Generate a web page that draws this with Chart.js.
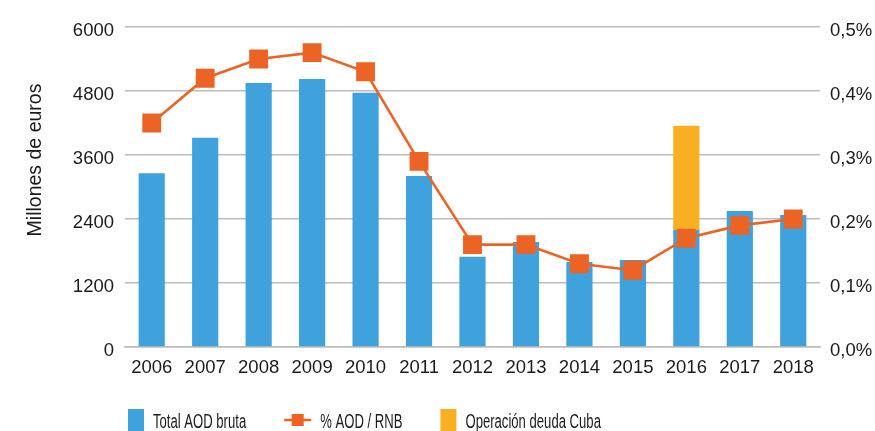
<!DOCTYPE html>
<html>
<head>
<meta charset="utf-8">
<script src="https://cdn.jsdelivr.net/npm/chart.js@4"></script>
<style>
  html, body { margin: 0; padding: 0; background: #fff; }
  #wrap { width: 875px; height: 431px; }
</style>
</head>
<body>
<div id="wrap"><canvas id="aodChart"></canvas></div>
<script>
const years = ["2006", "2007", "2008", "2009", "2010", "2011", "2012", "2013", "2014", "2015", "2016", "2017", "2018"];
const aodBruta = [3260, 3925, 4950, 5025, 4765, 3205, 1690, 1970, 1595, 1630, 2195, 2550, 2475];
const deudaCuba = [0, 0, 0, 0, 0, 0, 0, 0, 0, 0, 1955, 0, 0];
const aodRnb = [0.35, 0.42, 0.45, 0.46, 0.43, 0.29, 0.16, 0.16, 0.13, 0.12, 0.17, 0.19, 0.20];
const leftTicks = [0, 1200, 2400, 3600, 4800, 6000];
const rightTicks = [0, 0.1, 0.2, 0.3, 0.4, 0.5];

const BLUE = "#3fa2dc";
const ORANGE = "#eb6426";
const YELLOW = "#f8b022";
const GRID = "#bcbcbc";
const TEXT = "#1b1b1b";
const FONT = "'Liberation Sans', Arial, sans-serif";

// y title + legend drawn by hand (condensed look via x-scale)
const extras = {
  id: "extras",
  afterDraw(chart) {
    const ctx = chart.ctx;
    ctx.save();
    ctx.fillStyle = TEXT;
    ctx.font = "19.5px " + FONT;
    ctx.textAlign = "center";
    ctx.textBaseline = "middle";
    ctx.translate(36, 160);
    ctx.rotate(-Math.PI / 2);
    ctx.fillText("Millones de euros", 0, 0);
    ctx.restore();

    const ds = chart.data.datasets;
    const items = [
      { text: ds[0].label, color: ds[0].backgroundColor, type: "box" },
      { text: ds[2].label, color: ds[2].borderColor, type: "line" },
      { text: ds[1].label, color: ds[1].backgroundColor, type: "box" }
    ];
    const sx = 0.655;
    ctx.save();
    ctx.font = "20px " + FONT;
    ctx.textBaseline = "alphabetic";
    let x = chart.chartArea.left + 3;
    const yMid = 420;
    items.forEach(it => {
      let sym;
      if (it.type === "box") {
        ctx.fillStyle = it.color;
        ctx.fillRect(x, 409, 16, 22);
        sym = 16;
      } else {
        ctx.strokeStyle = it.color;
        ctx.lineWidth = 2.5;
        ctx.beginPath();
        ctx.moveTo(x, yMid);
        ctx.lineTo(x + 27, yMid);
        ctx.stroke();
        ctx.fillStyle = it.color;
        ctx.fillRect(x + 7.5, yMid - 6, 12, 12);
        sym = 27;
      }
      const tx = x + sym + 9;
      ctx.fillStyle = TEXT;
      ctx.save();
      ctx.translate(tx, 428);
      ctx.scale(sx, 1);
      ctx.fillText(it.text, 0, 0);
      const w = ctx.measureText(it.text).width * sx;
      ctx.restore();
      x = tx + w + 38;
    });
    ctx.restore();
  }
};

const ctx = document.getElementById("aodChart").getContext("2d");
new Chart(ctx, {
  data: {
    labels: years,
    datasets: [
      {
        type: "bar",
        label: "Total AOD bruta",
        data: aodBruta,
        backgroundColor: BLUE,
        yAxisID: "y",
        stack: "aod",
        order: 2,
        categoryPercentage: 1,
        barPercentage: 0.49
      },
      {
        type: "bar",
        label: "Operación deuda Cuba",
        data: deudaCuba,
        backgroundColor: YELLOW,
        yAxisID: "y",
        stack: "aod",
        order: 2,
        categoryPercentage: 1,
        barPercentage: 0.49
      },
      {
        type: "line",
        label: "% AOD / RNB",
        data: aodRnb,
        borderColor: ORANGE,
        backgroundColor: ORANGE,
        borderWidth: 2.6,
        pointStyle: "rect",
        pointRadius: 11.5,
        pointHoverRadius: 11.5,
        tension: 0,
        yAxisID: "y1",
        order: 1
      }
    ]
  },
  options: {
    responsive: true,
    maintainAspectRatio: false,
    animation: false,
    layout: { padding: { top: 27, left: 0, right: 0, bottom: 0 } },
    plugins: {
      legend: { display: false },
      tooltip: { enabled: false }
    },
    scales: {
      x: {
        stacked: true,
        grid: { display: false, drawTicks: false },
        border: { display: true, color: GRID, width: 1.5 },
        ticks: { color: TEXT, font: { family: FONT, size: 18.5 }, padding: 10, maxRotation: 0 },
        afterFit(scale) { scale.height = 84; }
      },
      y: {
        stacked: true,
        position: "left",
        min: 0,
        max: 6000,
        afterBuildTicks(scale) { scale.ticks = leftTicks.map(v => ({ value: v })); },
        grid: { color: GRID, lineWidth: 1.5, drawTicks: false },
        border: { display: false },
        ticks: {
          color: TEXT,
          font: { family: FONT, size: 18.5 },
          padding: 11,
          labelOffset: 4,
          callback: v => String(v)
        },
        afterFit(scale) { scale.width = 125; }
      },
      y1: {
        position: "right",
        min: 0,
        max: 0.5,
        afterBuildTicks(scale) { scale.ticks = rightTicks.map(v => ({ value: v })); },
        grid: { display: false, drawTicks: false },
        border: { display: false },
        ticks: {
          color: TEXT,
          font: { family: FONT, size: 18.5 },
          padding: 10,
          labelOffset: 4,
          callback: v => v.toFixed(1).replace(".", ",") + "%"
        },
        afterFit(scale) { scale.width = 55; }
      }
    }
  },
  plugins: [extras]
});
</script>
</body>
</html>
